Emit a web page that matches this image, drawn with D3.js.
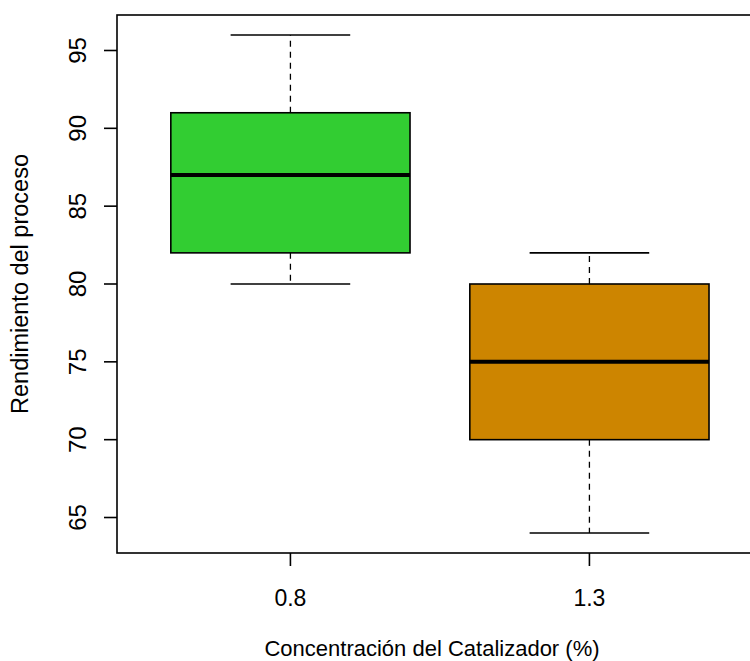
<!DOCTYPE html>
<html>
<head>
<meta charset="utf-8">
<script src="https://cdn.jsdelivr.net/npm/d3@7"></script>
<style>
  html, body { margin: 0; padding: 0; background: #fff; }
  svg { display: block; font-family: "Liberation Sans", Arial, sans-serif; }
</style>
</head>
<body>
<svg id="chart" width="750" height="661"></svg>
<script>
// Five-number summaries per catalyst concentration
const groups = ["0.8", "1.3"];
const lowWhisker = [80, 64];
const lowerQuartile = [82, 70];
const medians = [87, 75];
const upperQuartile = [91, 80];
const highWhisker = [96, 82];
const fills = ["#32CD32", "#CD8500"];
const yTicks = [65, 70, 75, 80, 85, 90, 95];

const svg = d3.select("#chart");
const W = 750, H = 661;

// Plot region
const plotLeft = 117, plotTop = 15, plotBottom = 553;
const groupStep = 299;
const xTickFont = 23, yTickFont = 24, xTitleFont = 22, yTitleFont = 23.5;

// Group positions 1..n, range padded by 4% like a standard boxplot
const n = groups.length;
const xlo = 0.5, xhi = n + 0.5, xpad = (xhi - xlo) * 0.04;
const xd0 = xlo - xpad, xd1 = xhi + xpad;
const x = d3.scaleLinear().domain([xd0, xd1])
  .range([plotLeft, plotLeft + groupStep * (xd1 - xd0)]);

const ymin = d3.min(lowWhisker), ymax = d3.max(highWhisker);
const ypad = (ymax - ymin) * 0.04;
const y = d3.scaleLinear().domain([ymin - ypad, ymax + ypad]).range([plotBottom, plotTop]);

const boxW = 0.8;
const g = svg.append("g");

groups.forEach((name, i) => {
  const c = i + 1;
  const bx0 = x(c - boxW / 2), bx1 = x(c + boxW / 2);
  const cx0 = x(c - boxW / 4), cx1 = x(c + boxW / 4);

  // dashed whiskers from box edges outward
  g.append("line")
    .attr("x1", x(c)).attr("x2", x(c))
    .attr("y1", y(upperQuartile[i])).attr("y2", y(highWhisker[i]))
    .attr("stroke", "#000").attr("stroke-width", 1.3).attr("stroke-dasharray", "6,5");
  g.append("line")
    .attr("x1", x(c)).attr("x2", x(c))
    .attr("y1", y(lowerQuartile[i])).attr("y2", y(lowWhisker[i]))
    .attr("stroke", "#000").attr("stroke-width", 1.3).attr("stroke-dasharray", "6,5");

  // whisker caps
  [highWhisker[i], lowWhisker[i]].forEach(v => {
    g.append("line")
      .attr("x1", cx0).attr("x2", cx1)
      .attr("y1", y(v)).attr("y2", y(v))
      .attr("stroke", "#000").attr("stroke-width", 1.6);
  });

  // box
  g.append("rect")
    .attr("x", bx0).attr("y", y(upperQuartile[i]))
    .attr("width", bx1 - bx0)
    .attr("height", y(lowerQuartile[i]) - y(upperQuartile[i]))
    .attr("fill", fills[i]).attr("stroke", "#000").attr("stroke-width", 1.6);

  // median
  g.append("line")
    .attr("x1", bx0).attr("x2", bx1)
    .attr("y1", y(medians[i])).attr("y2", y(medians[i]))
    .attr("stroke", "#000").attr("stroke-width", 4);
});

// Frame (left, top, bottom; right side lies beyond the canvas)
const frameRight = x(xd1);
svg.append("rect")
  .attr("x", plotLeft).attr("y", plotTop)
  .attr("width", frameRight - plotLeft).attr("height", plotBottom - plotTop)
  .attr("fill", "none").attr("stroke", "#000").attr("stroke-width", 1.6);

// Y axis
const yAxis = svg.append("g");
yTicks.forEach(t => {
  yAxis.append("line")
    .attr("x1", plotLeft - 13).attr("x2", plotLeft)
    .attr("y1", y(t)).attr("y2", y(t))
    .attr("stroke", "#000").attr("stroke-width", 1.6);
  yAxis.append("text")
    .attr("transform", `translate(${plotLeft - 31},${y(t)}) rotate(-90)`)
    .attr("text-anchor", "middle")
    .attr("font-size", yTickFont)
    .text(t);
});

// X axis
const xAxis = svg.append("g");
groups.forEach((name, i) => {
  const c = i + 1;
  xAxis.append("line")
    .attr("x1", x(c)).attr("x2", x(c))
    .attr("y1", plotBottom).attr("y2", plotBottom + 13)
    .attr("stroke", "#000").attr("stroke-width", 1.6);
  xAxis.append("text")
    .attr("x", x(c)).attr("y", plotBottom + 53)
    .attr("text-anchor", "middle")
    .attr("font-size", xTickFont)
    .text(name);
});

// Axis titles
svg.append("text")
  .attr("x", 432).attr("y", 656)
  .attr("text-anchor", "middle")
  .attr("font-size", xTitleFont)
  .text("Concentración del Catalizador (%)");

svg.append("text")
  .attr("transform", `translate(28,${(plotTop + plotBottom) / 2}) rotate(-90)`)
  .attr("text-anchor", "middle")
  .attr("font-size", yTitleFont)
  .text("Rendimiento del proceso");
</script>
</body>
</html>
